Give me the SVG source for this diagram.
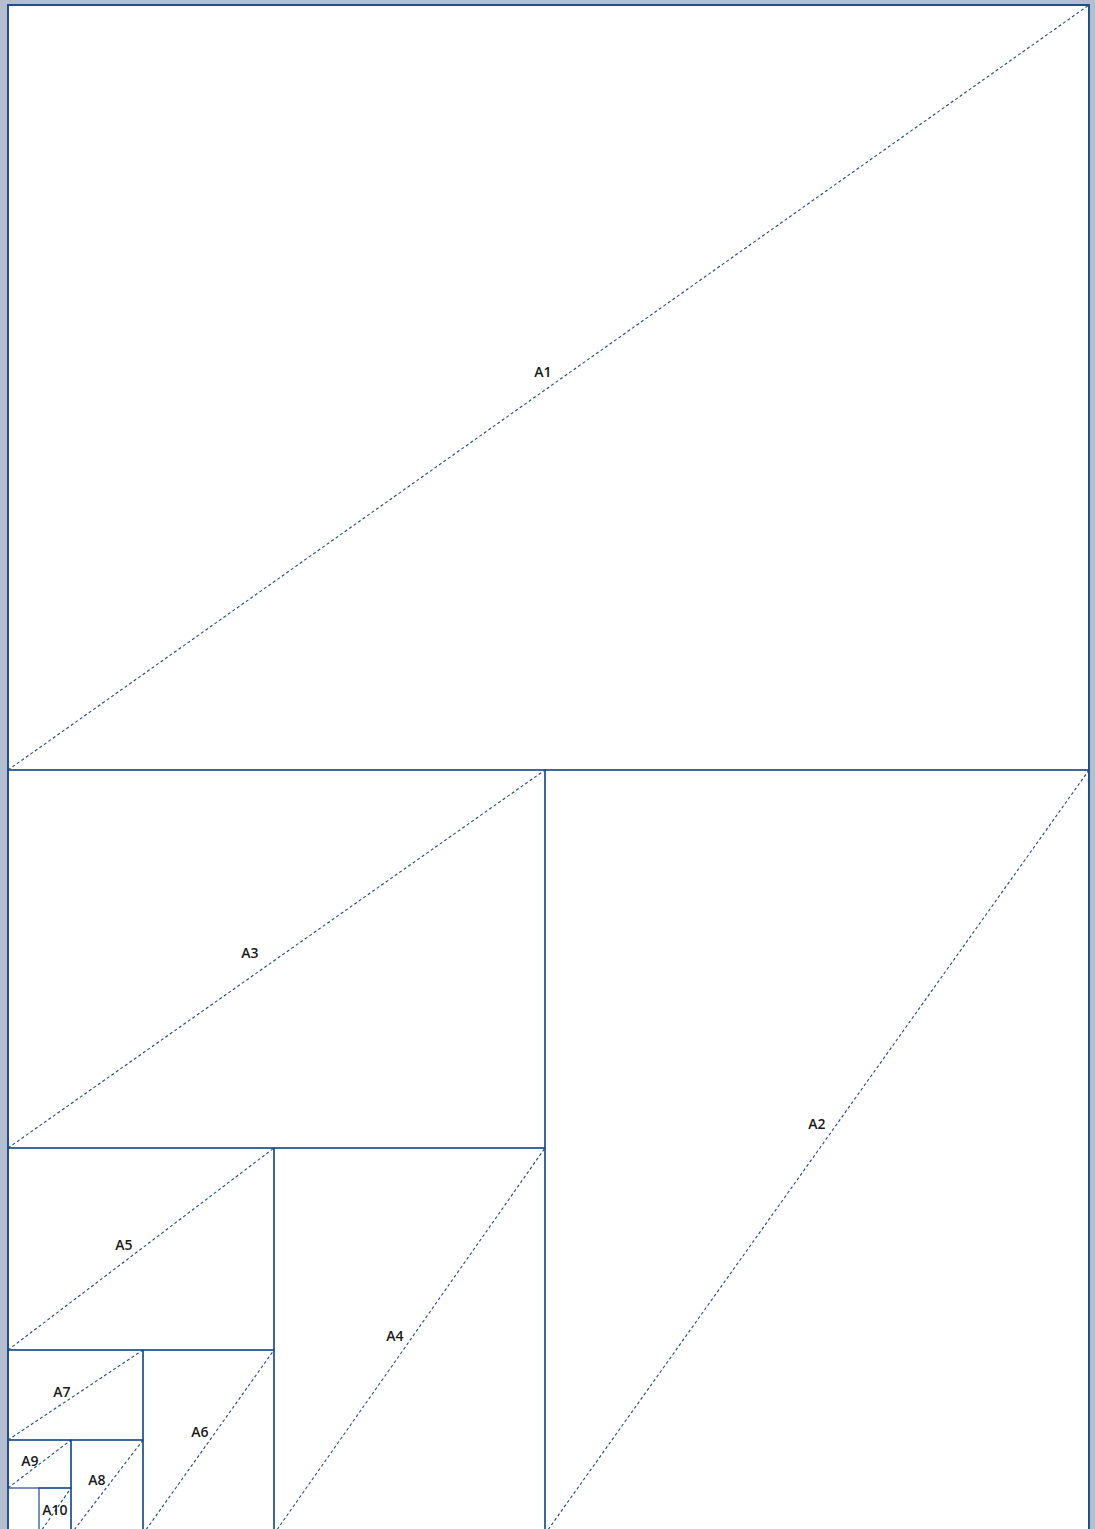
<svg xmlns="http://www.w3.org/2000/svg" width="1095" height="1529" viewBox="0 0 1095 1529">
  <style>
    .frame { fill: none; stroke: #1c4b88; stroke-width: 1.2; }
    .diag { fill: none; stroke: #1c4b88; stroke-width: 1.1; stroke-dasharray: 3 2.5; }
    .lbl { font-family: "Open Sans", "Liberation Sans", sans-serif; font-size: 14px; font-weight: 600; fill: #1a1a1a; text-anchor: middle; }
  </style>
  <rect x="0" y="0" width="1095" height="1529" fill="#b3bfd1"/>
  <rect x="8" y="5" width="1081" height="1540" fill="#ffffff" stroke="#2a5590" stroke-width="2"/>

  <g id="connectors">
    <line class="diag" x1="8" y1="770" x2="1089" y2="5"/>
    <line class="diag" x1="545" y1="1534" x2="1089" y2="770"/>
    <line class="diag" x1="8" y1="1148" x2="545" y2="770"/>
    <line class="diag" x1="274" y1="1534" x2="545" y2="1148"/>
    <line class="diag" x1="8" y1="1350" x2="274" y2="1148"/>
    <line class="diag" x1="143" y1="1534" x2="274" y2="1350"/>
    <line class="diag" x1="8" y1="1440" x2="143" y2="1350"/>
    <line class="diag" x1="71" y1="1534" x2="143" y2="1440"/>
    <line class="diag" x1="8" y1="1488" x2="71" y2="1440"/>
    <line class="diag" x1="39" y1="1534" x2="71" y2="1488"/>
  </g>

  <g id="A1"><rect class="frame" x="8" y="5" width="1081" height="765"/><text class="lbl" x="543" y="377">A1</text></g>
  <g id="A2"><rect class="frame" x="545" y="770" width="544" height="780"/><text class="lbl" x="817" y="1129">A2</text></g>
  <g id="A3"><rect class="frame" x="8" y="770" width="537" height="378"/><text class="lbl" x="250" y="958">A3</text></g>
  <g id="A4"><rect class="frame" x="274" y="1148" width="271" height="400"/><text class="lbl" x="395" y="1341">A4</text></g>
  <g id="A5"><rect class="frame" x="8" y="1148" width="266" height="202"/><text class="lbl" x="124" y="1250">A5</text></g>
  <g id="A6"><rect class="frame" x="143" y="1350" width="131" height="200"/><text class="lbl" x="200" y="1437">A6</text></g>
  <g id="A7"><rect class="frame" x="8" y="1350" width="135" height="90"/><text class="lbl" x="62" y="1397">A7</text></g>
  <g id="A8"><rect class="frame" x="71" y="1440" width="72" height="110"/><text class="lbl" x="97" y="1485">A8</text></g>
  <g id="A9"><rect class="frame" x="8" y="1440" width="63" height="48"/><text class="lbl" x="30" y="1466">A9</text></g>
  <g id="A10"><rect class="frame" x="39" y="1488" width="32" height="60"/><text class="lbl" x="55" y="1515">A10</text></g>
</svg>
